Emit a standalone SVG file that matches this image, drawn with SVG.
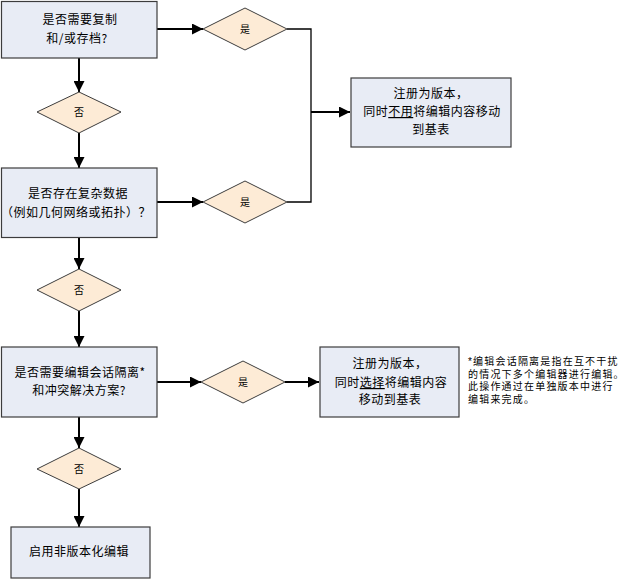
<svg xmlns="http://www.w3.org/2000/svg" width="639" height="579" viewBox="0 0 639 579">
<defs>
<marker id="ah" viewBox="0 0 10 10" refX="10" refY="5" markerWidth="5.5" markerHeight="5.5" markerUnits="strokeWidth" orient="auto"><path d="M0,0 L10,5 L0,10 z" fill="#000"/></marker>
</defs>
<style>
.box{fill:#E8ECF5;stroke:#3c3c3c;stroke-width:1.2}
.dia{fill:#FDEBD6;stroke:#3c3c3c;stroke-width:1}
.t{font-family:"Noto Sans CJK SC","Liberation Sans",sans-serif;font-size:12px;fill:#000;text-anchor:middle;letter-spacing:0.5px}
.d{font-family:"Noto Sans CJK SC","Liberation Sans",sans-serif;font-size:10px;fill:#000;text-anchor:middle}
.n{font-family:"Liberation Sans","Noto Sans CJK SC",sans-serif;font-size:10px;fill:#000;letter-spacing:1.2px}
.th{fill:none;stroke:#000;stroke-width:2}
.tn{fill:none;stroke:#000;stroke-width:1.3}
</style>
<rect width="639" height="579" fill="#fff"/>
<g id="connectors">
<line class="th" x1="157" y1="29" x2="203" y2="29" marker-end="url(#ah)"/>
<polyline class="tn" points="287,29 311,29 311,202 287,202"/>
<line class="th" x1="311" y1="112" x2="350" y2="112" marker-end="url(#ah)"/>
<line class="th" x1="79" y1="58" x2="79" y2="92" marker-end="url(#ah)"/>
<line class="th" x1="79" y1="133" x2="79" y2="168" marker-end="url(#ah)"/>
<line class="th" x1="157" y1="202" x2="203" y2="202" marker-end="url(#ah)"/>
<line class="th" x1="79" y1="238" x2="79" y2="269" marker-end="url(#ah)"/>
<line class="th" x1="79" y1="311" x2="79" y2="347" marker-end="url(#ah)"/>
<line class="th" x1="157" y1="382" x2="201" y2="382" marker-end="url(#ah)"/>
<line class="th" x1="285" y1="382" x2="319" y2="382" marker-end="url(#ah)"/>
<line class="th" x1="79" y1="417" x2="79" y2="448" marker-end="url(#ah)"/>
<line class="th" x1="79" y1="489" x2="79" y2="527" marker-end="url(#ah)"/>
</g>
<g id="q1">
<rect class="box" x="1.5" y="1.5" width="155.5" height="56.5"/>
<text class="t" x="80" y="24">是否需要复制</text>
<text class="t" x="77" y="43">和/或存档?</text>
</g>
<g id="yes1">
<polygon class="dia" points="203,29 245,8 287,29 245,50"/>
<text class="d" x="245" y="33">是</text>
</g>
<g id="no1">
<polygon class="dia" points="37,112 79,92 121,112 79,133"/>
<text class="d" x="79" y="116">否</text>
</g>
<g id="r1">
<rect class="box" x="351" y="78" width="160" height="69"/>
<text class="t" x="431" y="98">注册为版本，</text>
<text class="t" x="432" y="116">同时<tspan text-decoration="underline">不用</tspan>将编辑内容移动</text>
<text class="t" x="431" y="134">到基表</text>
</g>
<g id="q2">
<rect class="box" x="1.5" y="168" width="155.5" height="69.5"/>
<text class="t" x="78" y="198">是否存在复杂数据</text>
<text class="t" x="76" y="217">（例如几何网络或拓扑）？</text>
</g>
<g id="yes2">
<polygon class="dia" points="203,202 245,181 287,202 245,223"/>
<text class="d" x="245" y="206">是</text>
</g>
<g id="no2">
<polygon class="dia" points="37,290 79,269 121,290 79,311"/>
<text class="d" x="79" y="294">否</text>
</g>
<g id="q3">
<rect class="box" x="1.5" y="347" width="155.5" height="70"/>
<text class="t" x="80" y="377">是否需要编辑会话隔离*</text>
<text class="t" x="79" y="395">和冲突解决方案?</text>
</g>
<g id="yes3">
<polygon class="dia" points="201,382 243,361 285,382 243,403"/>
<text class="d" x="243" y="386">是</text>
</g>
<g id="r2">
<rect class="box" x="320" y="347" width="139" height="70"/>
<text class="t" x="390" y="368">注册为版本，</text>
<text class="t" x="391" y="387">同时<tspan text-decoration="underline">选择</tspan>将编辑内容</text>
<text class="t" x="390" y="404">移动到基表</text>
</g>
<g id="no3">
<polygon class="dia" points="37,469 79,448 121,469 79,489"/>
<text class="d" x="79" y="473">否</text>
</g>
<g id="end">
<rect class="box" x="11" y="527" width="139" height="51"/>
<text class="t" x="79" y="556">启用非版本化编辑</text>
</g>
<g id="note">
<text class="n" x="468" y="365">*编辑会话隔离是指在互不干扰</text>
<text class="n" x="468" y="377.5">的情况下多个编辑器进行编辑。</text>
<text class="n" x="468" y="390">此操作通过在单独版本中进行</text>
<text class="n" x="468" y="402.5">编辑来完成。</text>
</g>
</svg>
